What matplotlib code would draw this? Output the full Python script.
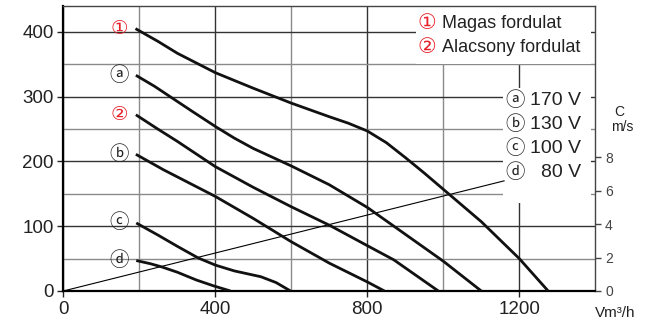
import matplotlib
matplotlib.use("Agg")
import matplotlib.pyplot as plt
from matplotlib.patches import Rectangle

plt.rcParams['font.family'] = ['Liberation Sans', 'DejaVu Sans']

# Pressure curves, p (Pa) vs airflow (m3/h)
hi_x = [190, 250, 300, 400, 500, 600, 700, 750, 800, 850, 900, 950, 1000, 1100, 1200, 1276]
hi_y = [405, 385, 367, 337, 313, 290, 269, 259, 247, 229, 206, 182, 157, 107, 50, 0]

a_x = [191, 240, 281, 340, 400, 450, 500, 600, 700, 800, 870, 1000, 1100]
a_y = [333, 316, 300, 277, 254, 236, 220, 193, 164, 129, 100, 46, 0]

lo_x = [191, 246, 300, 400, 500, 600, 702, 800, 870, 987]
lo_y = [272, 251, 231, 192, 160, 130, 101, 70, 48, 0]

b_x = [191, 264, 400, 500, 600, 700, 800, 845]
b_y = [211, 187, 146, 112, 76, 43, 14, 0]

c_x = [192, 250, 300, 355, 400, 450, 520, 560, 598]
c_y = [105, 86, 69, 51, 40, 31, 22, 13, 0]

d_x = [192, 230, 260, 300, 350, 395, 440]
d_y = [47, 42, 37, 29, 17, 8, 0]

# system line (thin)
sys_x = [0, 1160]
sys_y = [0, 170]

curves = [(hi_x, hi_y, '①', 'red'), (a_x, a_y, 'ⓐ', 'black'),
          (lo_x, lo_y, '②', 'red'), (b_x, b_y, 'ⓑ', 'black'),
          (c_x, c_y, 'ⓒ', 'black'), (d_x, d_y, 'ⓓ', 'black')]

volt_marks = ['ⓐ', 'ⓑ', 'ⓒ', 'ⓓ']
volt_labels = ['170 V', '130 V', '100 V', '80 V']
legend_marks = ['①', '②']
legend_labels = ['Magas fordulat', 'Alacsony fordulat']

RED = '#e8202a'
circ_font = ['DejaVu Sans', 'Noto Sans CJK JP']

fig = plt.figure(figsize=(6.58, 3.30), dpi=100)
ax = fig.add_axes([0.0962, 0.1182, 0.8085, 0.8638])
ax.set_xlim(0, 1400)
ax.set_ylim(0, 440)

ax.set_xticks([0, 400, 800, 1200])
ax.set_xticks([200, 600, 1000], minor=True)
ax.set_yticks([0, 100, 200, 300, 400])
ax.set_yticks([50, 150, 250, 350], minor=True)
ax.set_axisbelow(True)
ax.grid(True, which='major', color='#333333', lw=1.0)
ax.grid(True, which='minor', color='#8a8a8a', lw=1.0)
ax.tick_params(which='major', direction='out', length=4, width=1,
               labelsize=13.5, colors='#222222', pad=3)
ax.tick_params(which='minor', length=0)
for s in ['left', 'bottom']:
    ax.spines[s].set_linewidth(1.6)
for s in ['top', 'right']:
    ax.spines[s].set_linewidth(1.0)
    ax.spines[s].set_color('#444444')

# white boxes behind the legends
ax.add_patch(Rectangle((928, 351), 462, 90, facecolor='white',
                       edgecolor='none', zorder=1))
ax.add_patch(Rectangle((1157, 136), 233, 177, facecolor='white',
                       edgecolor='none', zorder=1))

ax.plot(sys_x, sys_y, color='black', lw=0.8, zorder=3)

for xs, ys, mark, col in curves:
    ax.plot(xs, ys, color='#111111', lw=2.0, zorder=4,
            solid_capstyle='butt', solid_joinstyle='round')
    ax.annotate(mark, (xs[0], ys[0]), xytext=(-12, 0),
                textcoords='offset points', ha='center', va='center',
                fontsize=14, color=RED if col == 'red' else '#222222',
                family=circ_font, zorder=5)

# legend top right
for i, (m, lab) in enumerate(zip(legend_marks, legend_labels)):
    yy = 413 - i * 37
    ax.text(956, yy, m, ha='center', va='center', fontsize=15,
            color=RED, family=circ_font, zorder=5)
    ax.text(996, yy, lab, ha='left', va='center', fontsize=13,
            color='#222222', zorder=5)

# voltage legend
for i, (m, lab) in enumerate(zip(volt_marks, volt_labels)):
    yy = 294 - i * 37
    ax.text(1189, yy, m, ha='center', va='center', fontsize=14,
            color='#222222', family=circ_font, zorder=5)
    ax.text(1362, yy, lab, ha='right', va='center', fontsize=14,
            color='#222222', zorder=5)

# right axis: air velocity
ax2 = ax.twinx()
ax2.set_ylim(0, 440 / 25.8)
ax2.set_yticks([0, 2, 4, 6, 8])
ax2.tick_params(direction='out', length=4, width=1, labelsize=10,
                colors='#444444', pad=3)
for s in ax2.spines.values():
    s.set_visible(False)

fig.text(614 / 658, 1 - 112 / 330, 'C', ha='left', va='center',
         fontsize=10, color='#222222')
fig.text(611 / 658, 1 - 127 / 330, 'm/s', ha='left', va='center',
         fontsize=10, color='#222222')
fig.text(595 / 658, 1 - 313 / 330, 'V̇m³/h', ha='left', va='center',
         fontsize=11, color='#222222')

fig.savefig('out.png', dpi=100)
